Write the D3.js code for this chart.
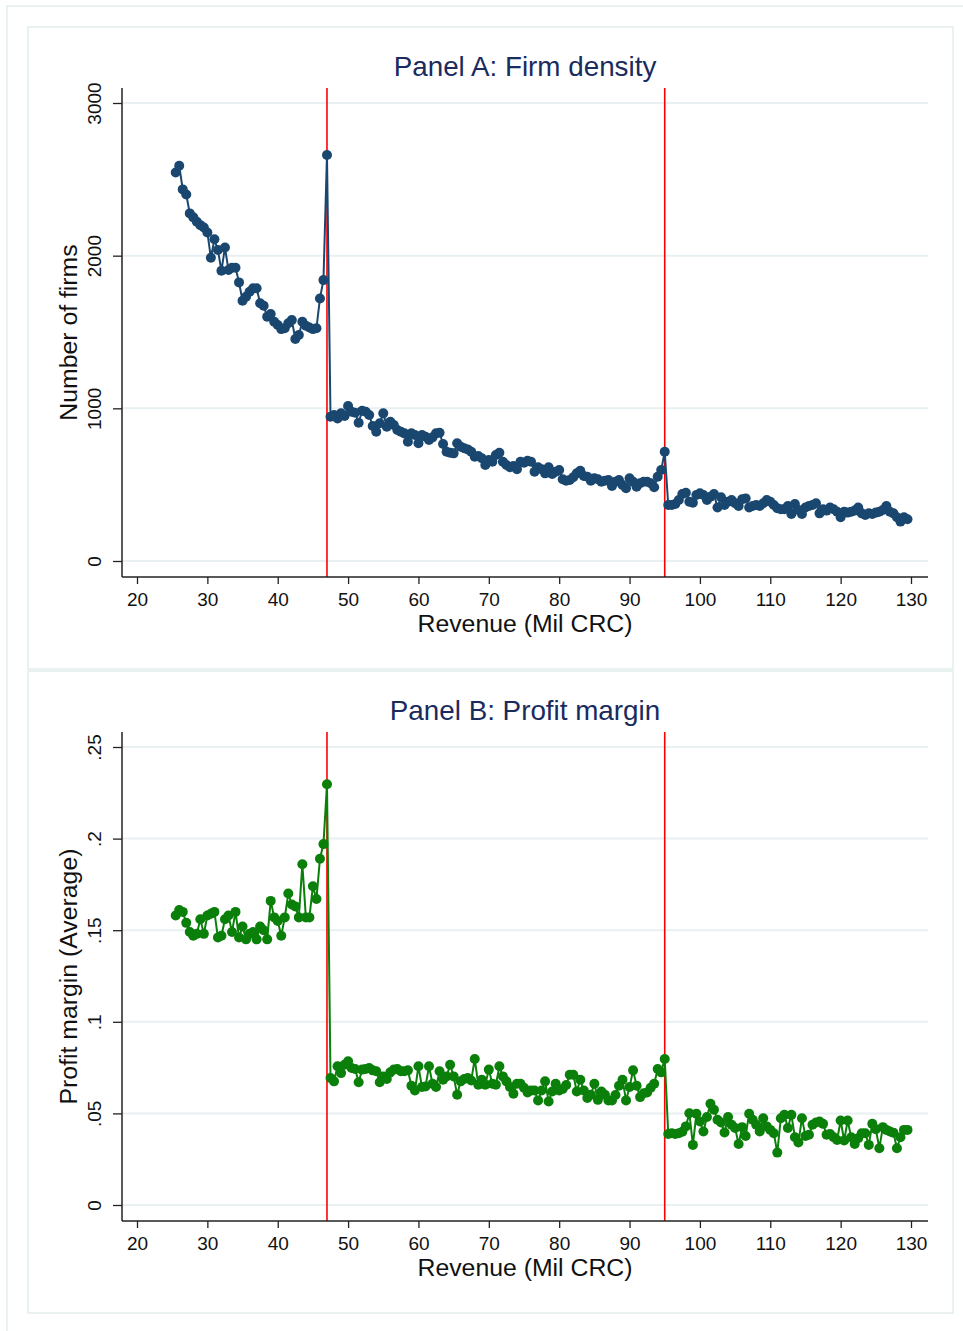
<!DOCTYPE html>
<html>
<head>
<meta charset="utf-8">
<script src="https://cdn.jsdelivr.net/npm/d3@7"></script>
<style>
  body { margin: 0; background: #fff; }
  svg { display: block; }
  text { font-family: "Liberation Sans", Arial, Helvetica, sans-serif; }
</style>
</head>
<body>
<svg id="chart" width="963" height="1331"></svg>
<script>
// revenue bins (Mil CRC), half-million steps
const revenueBins = d3.range(25.5, 130, 0.5);
const thresholds = [47, 95];
const xTicks = [20, 30, 40, 50, 60, 70, 80, 90, 100, 110, 120, 130];

// Panel A: number of firms per bin
const firmsLow = [2545, 2589, 2434, 2401, 2277, 2251, 2222, 2200, 2185, 2152,
  1986, 2107, 2037, 1901, 2054, 1906, 1921, 1921, 1825, 1705,
  1731, 1764, 1786, 1786, 1688, 1672, 1600, 1618, 1567, 1546,
  1519, 1524, 1557, 1578, 1454, 1480, 1567, 1541, 1530, 1519,
  1524, 1720, 1840, 2659];
const firmsMid = [945, 956, 934, 967, 950, 1015, 978, 971, 906, 984,
  978, 956, 884, 847, 902, 967, 880, 912, 891, 858,
  847, 836, 781, 836, 825, 771, 825, 814, 792, 810,
  836, 840, 766, 716, 709, 705, 771, 749, 738, 731,
  716, 683, 688, 673, 629, 661, 650, 694, 709, 650,
  629, 614, 622, 601, 650, 644, 657, 650, 585, 614,
  601, 574, 614, 570, 585, 596, 535, 526, 530, 548,
  574, 591, 557, 552, 526, 542, 535, 519, 526, 530,
  491, 519, 530, 498, 476, 542, 519, 487, 509, 519,
  519, 509, 483, 552, 596, 716];
const firmsHigh = [367, 367, 373, 400, 439, 447, 388, 382, 432, 443,
  432, 400, 421, 439, 351, 417, 367, 388, 400, 378,
  360, 404, 410, 351, 360, 367, 360, 378, 400, 388,
  367, 345, 339, 339, 360, 308, 373, 334, 308, 351,
  360, 367, 378, 312, 339, 330, 351, 339, 323, 286,
  323, 317, 323, 330, 351, 312, 301, 312, 308, 317,
  323, 334, 360, 323, 312, 286, 258, 286, 273];

// Panel B: average profit margin per bin
const marginLow = [0.158, 0.161, 0.160, 0.154, 0.149, 0.147, 0.148, 0.156, 0.148, 0.158,
  0.159, 0.160, 0.146, 0.147, 0.156, 0.158, 0.149, 0.160, 0.146, 0.152,
  0.145, 0.148, 0.149, 0.145, 0.152, 0.150, 0.145, 0.166, 0.157, 0.155,
  0.147, 0.157, 0.170, 0.164, 0.163, 0.157, 0.186, 0.157, 0.157, 0.174,
  0.167, 0.189, 0.197, 0.2297];
const marginMid = [0.0693, 0.0675, 0.0757, 0.0720, 0.0766, 0.0784, 0.0748, 0.0742, 0.0670, 0.0739,
  0.0742, 0.0748, 0.0735, 0.0730, 0.0670, 0.0702, 0.0688, 0.0724, 0.0739, 0.0742,
  0.0730, 0.0730, 0.0735, 0.0651, 0.0625, 0.0757, 0.0644, 0.0647, 0.0757, 0.0662,
  0.0644, 0.0730, 0.0684, 0.0702, 0.0766, 0.0702, 0.0602, 0.0675, 0.0688, 0.0693,
  0.0680, 0.0797, 0.0657, 0.0684, 0.0657, 0.0739, 0.0662, 0.0657, 0.0757, 0.0702,
  0.0675, 0.0644, 0.0607, 0.0662, 0.0662, 0.0640, 0.0614, 0.0625, 0.0625, 0.0571,
  0.0625, 0.0675, 0.0565, 0.0620, 0.0662, 0.0625, 0.0633, 0.0655, 0.0711, 0.0711,
  0.0620, 0.0684, 0.0625, 0.0584, 0.0602, 0.0662, 0.0574, 0.0620, 0.0602, 0.0571,
  0.0571, 0.0600, 0.0651, 0.0684, 0.0571, 0.0644, 0.0735, 0.0651, 0.0589, 0.0610,
  0.0614, 0.0640, 0.0662, 0.0742, 0.0724, 0.0797];
const marginHigh = [0.0388, 0.0392, 0.0388, 0.0392, 0.0400, 0.0429, 0.0501, 0.0328, 0.0498, 0.0456,
  0.0401, 0.0480, 0.0553, 0.0520, 0.0465, 0.0450, 0.0396, 0.0480, 0.0438, 0.0420,
  0.0333, 0.0425, 0.0377, 0.0498, 0.0465, 0.0438, 0.0401, 0.0474, 0.0429, 0.0410,
  0.0392, 0.0286, 0.0474, 0.0492, 0.0420, 0.0492, 0.0370, 0.0341, 0.0474, 0.0377,
  0.0383, 0.0438, 0.0450, 0.0456, 0.0443, 0.0383, 0.0388, 0.0370, 0.0355, 0.0461,
  0.0352, 0.0461, 0.0370, 0.0333, 0.0365, 0.0392, 0.0392, 0.0328, 0.0443, 0.0414,
  0.0310, 0.0425, 0.0410, 0.0401, 0.0395, 0.0310, 0.0370, 0.0410, 0.0410];

const firmsTicks = [0, 1000, 2000, 3000];
const marginTicks = [0, 0.05, 0.1, 0.15, 0.2, 0.25];

const firms = firmsLow.concat(firmsMid, firmsHigh);
const margin = marginLow.concat(marginMid, marginHigh);

const svg = d3.select("#chart");
const frameColor = "#e3eded";

svg.append("rect")
  .attr("x", 7).attr("y", 6).attr("width", 980).attr("height", 1340)
  .attr("fill", "none").attr("stroke", frameColor).attr("stroke-width", 1.5);

function drawPanel(opts) {
  const { top, title, yLabel, values, yTicks, yFormat, color } = opts;
  const g = svg.append("g").attr("transform", `translate(0,${top})`);

  g.append("rect")
    .attr("x", 28).attr("y", 0).attr("width", 925).attr("height", 642)
    .attr("fill", "#fff").attr("stroke", frameColor).attr("stroke-width", 1.5);

  const plot = { x0: 122, x1: 928, y0: 61, y1: 550 };

  const x = d3.scaleLinear().domain([20, 130]).range([137, 911]);
  const y = d3.scaleLinear().domain([yTicks[0], yTicks[yTicks.length - 1]]).range([534, 76]);

  // gridlines
  g.append("g").selectAll("line").data(yTicks).join("line")
    .attr("x1", plot.x0).attr("x2", plot.x1)
    .attr("y1", (d) => y(d)).attr("y2", (d) => y(d))
    .attr("stroke", "#e8f0f2").attr("stroke-width", 2);

  // threshold lines
  g.append("g").selectAll("line").data(thresholds).join("line")
    .attr("x1", (d) => x(d)).attr("x2", (d) => x(d))
    .attr("y1", plot.y0).attr("y2", plot.y1)
    .attr("stroke", "#ff0000").attr("stroke-width", 1.6);

  // axes
  const xAxis = g.append("g")
    .attr("transform", `translate(0,${plot.y1})`)
    .call(d3.axisBottom(x).tickValues(xTicks).tickSize(7).tickPadding(8.5));
  xAxis.select(".domain").remove();
  xAxis.append("line").attr("x1", plot.x0).attr("x2", plot.x1)
    .attr("stroke", "#222").attr("stroke-width", 1.5);
  xAxis.selectAll(".tick line").attr("stroke", "#222").attr("stroke-width", 1.3);
  xAxis.selectAll("text")
    .attr("font-size", 19).attr("font-family", "Liberation Sans, Arial, sans-serif").attr("fill", "#111");

  const yAxis = g.append("g")
    .attr("transform", `translate(${plot.x0},0)`)
    .call(d3.axisLeft(y).tickValues(yTicks).tickFormat(yFormat).tickSize(9));
  yAxis.select(".domain").remove();
  yAxis.append("line").attr("y1", plot.y0).attr("y2", plot.y1)
    .attr("stroke", "#222").attr("stroke-width", 1.5);
  yAxis.selectAll(".tick line").attr("stroke", "#222").attr("stroke-width", 1.3);
  yAxis.selectAll("text")
    .attr("x", 0).attr("dy", 0)
    .attr("text-anchor", "middle")
    .attr("transform", "translate(-21,0) rotate(-90)")
    .attr("font-size", 19).attr("font-family", "Liberation Sans, Arial, sans-serif").attr("fill", "#111");

  // titles
  g.append("text")
    .attr("x", (plot.x0 + plot.x1) / 2).attr("y", 49)
    .attr("text-anchor", "middle").attr("font-size", 27.8).attr("fill", "#1a2b5e")
    .text(title);

  g.append("text")
    .attr("x", (plot.x0 + plot.x1) / 2).attr("y", 605)
    .attr("text-anchor", "middle").attr("font-size", 24.8).attr("fill", "#111")
    .text("Revenue (Mil CRC)");

  g.append("text")
    .attr("transform", `translate(77,${(plot.y0 + plot.y1) / 2}) rotate(-90)`)
    .attr("text-anchor", "middle").attr("font-size", 24.8).attr("fill", "#111")
    .text(yLabel);

  // series
  const data = revenueBins.map((r, i) => ({ r, v: values[i] }));
  const line = d3.line().x((d) => x(d.r)).y((d) => y(d.v));

  g.append("path").datum(data)
    .attr("d", line)
    .attr("fill", "none").attr("stroke", color).attr("stroke-width", 2)
    .attr("stroke-linejoin", "round");

  g.append("g").selectAll("circle").data(data).join("circle")
    .attr("cx", (d) => x(d.r)).attr("cy", (d) => y(d.v))
    .attr("r", 5).attr("fill", color);
}

drawPanel({
  top: 27,
  title: "Panel A: Firm density",
  yLabel: "Number of firms",
  values: firms,
  yTicks: firmsTicks,
  yFormat: d3.format("d"),
  color: "#1a476f",
});

drawPanel({
  top: 671,
  title: "Panel B: Profit margin",
  yLabel: "Profit margin (Average)",
  values: margin,
  yTicks: marginTicks,
  yFormat: (d) => (d === 0 ? "0" : d3.format(".2~f")(d).replace(/^0/, "")),
  color: "#0a7f0a",
});
</script>
</body>
</html>
